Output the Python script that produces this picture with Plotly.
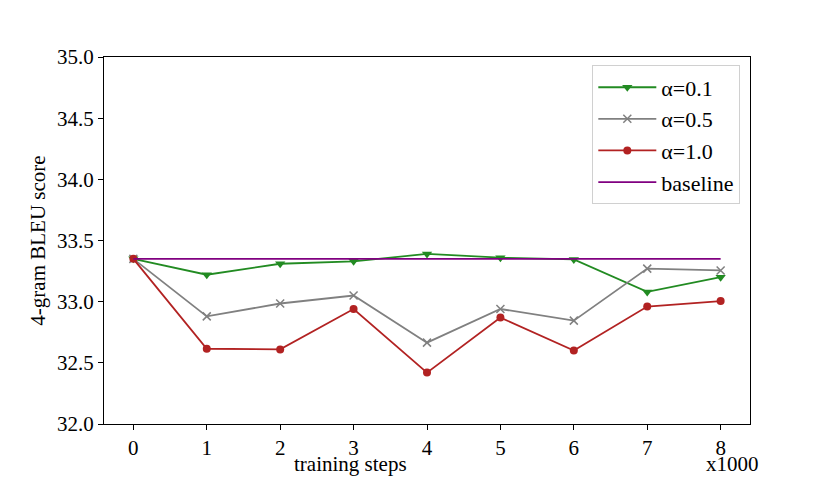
import plotly.graph_objects as go

steps = [0, 1, 2, 3, 4, 5, 6, 7, 8]
alpha_01 = [33.35, 33.22, 33.31, 33.33, 33.39, 33.36, 33.345, 33.08, 33.20]
alpha_05 = [33.35, 32.88, 32.985, 33.05, 32.665, 32.94, 32.845, 33.27, 33.255]
alpha_10 = [33.35, 32.615, 32.61, 32.94, 32.42, 32.87, 32.60, 32.96, 33.005]
baseline = [33.35] * len(steps)

font_family = "Liberation Serif, Times New Roman, serif"

fig = go.Figure()
fig.add_trace(go.Scatter(x=steps, y=alpha_01, name="α=0.1", mode="lines+markers",
                         line=dict(color="#228B22", width=1.8),
                         marker=dict(symbol="triangle-down", size=9, color="#228B22")))
fig.add_trace(go.Scatter(x=steps, y=alpha_05, name="α=0.5", mode="lines+markers",
                         line=dict(color="#808080", width=1.8),
                         marker=dict(symbol="x-thin", size=8, color="#808080",
                                     line=dict(color="#808080", width=1.5))))
fig.add_trace(go.Scatter(x=steps, y=alpha_10, name="α=1.0", mode="lines+markers",
                         line=dict(color="#B22222", width=1.8),
                         marker=dict(symbol="circle", size=8, color="#B22222")))
fig.add_trace(go.Scatter(x=steps, y=baseline, name="baseline", mode="lines",
                         line=dict(color="#800080", width=1.8)))

axis_common = dict(showline=True, linecolor="black", linewidth=1.2, mirror=True,
                   ticks="outside", ticklen=5, tickcolor="black", showgrid=False,
                   zeroline=False, tickfont=dict(size=21, color="black"))

# page adds ~8px body margin, so the figure is a bit smaller than the window
fig.update_layout(
    width=826, height=469,
    margin=dict(l=96, r=84, t=49, b=53),
    paper_bgcolor="white", plot_bgcolor="white",
    font=dict(family=font_family, color="black"),
    xaxis=dict(range=[-0.4, 8.4], tickvals=steps, **axis_common),
    yaxis=dict(range=[32.0, 35.0], dtick=0.5, tickformat=".1f",
               title=dict(text="4-gram BLEU score", font=dict(size=21), standoff=5),
               **axis_common),
    legend=dict(x=0.985, y=0.977, xanchor="right", yanchor="top",
                bgcolor="white", bordercolor="#d0d0d0", borderwidth=1,
                font=dict(size=22), itemwidth=58),
    annotations=[
        dict(text="training steps", xref="paper", yref="paper", x=0.381, y=-0.11,
             xanchor="center", yanchor="middle", showarrow=False, font=dict(size=21)),
        dict(text="x1000", xref="paper", yref="paper", x=1.017, y=-0.11,
             xanchor="right", yanchor="middle", showarrow=False, font=dict(size=21)),
    ],
)

fig.write_html("out.html")
